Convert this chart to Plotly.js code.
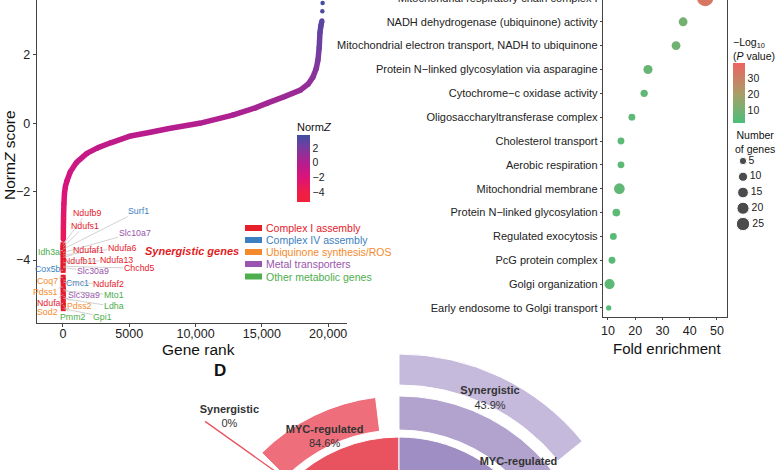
<!DOCTYPE html>
<html><head><meta charset="utf-8">
<script src="https://cdn.plot.ly/plotly-3.0.1.min.js"></script>
<style>
html,body{margin:0;padding:0;overflow:hidden;background:#fff;width:780px;height:470px;position:relative}
#chart{position:absolute;left:0;top:-20px;width:780px;height:620px}
</style>
</head><body><div id="chart"></div>
<script>
// ================= DATA =================
// Panel: NormZ score vs gene rank
const curveRank = [25, 32, 45, 70, 110, 180, 300, 550, 1000, 1800, 2600, 3600, 5000, 6500, 8000, 10300, 12800, 14500, 15400, 16700, 17900, 18500, 18850, 19100, 19230, 19320, 19380, 19450, 19530];
const curveZ    = [-3.4, -3.05, -2.7, -2.35, -2.05, -1.85, -1.68, -1.42, -1.15, -0.88, -0.72, -0.57, -0.38, -0.27, -0.15, 0.0, 0.24, 0.45, 0.59, 0.78, 0.97, 1.15, 1.35, 1.6, 1.85, 2.2, 2.65, 2.85, 3.0];
const tailRank = [19560, 19580, 19600];
const tailZ    = [3.28, 3.52, 3.75];

const categories = ['Complex I assembly', 'Complex IV assembly', 'Ubiquinone synthesis/ROS', 'Metal transporters', 'Other metabolic genes'];
const geneNames = ['Ndufb9','Ndufs1','Surf1','Idh3a','Slc10a7','Ndufa6','Ndufaf1','Ndufb11','Ndufa13','Chchd5','Slc30a9','Cox5b','Coq7','Cmc1','Ndufaf2','Pdss1','Slc39a9','Mto1','Ndufa3','Pdss2','Ldha','Sod2','Pmm2','Gpi1'];
const geneRank  = [1,2,3,4,5,6,7,8,9,10,11,12,13,14,15,16,17,18,19,20,21,22,23,24];
const geneZ     = [-3.55,-3.62,-3.68,-3.72,-3.78,-3.85,-3.92,-4.02,-4.08,-4.18,-4.22,-4.3,-4.5,-4.58,-4.65,-4.78,-4.85,-4.9,-5.0,-5.05,-5.12,-5.25,-5.32,-5.42];
const geneCategory = [0,0,1,4,3,0,0,0,0,0,3,1,2,1,0,2,3,4,0,2,4,2,4,4];
const normZTicks = [2, 0, -2, -4];
const rankTickVals = [0, 5000, 10000, 15000, 20000];
const rankTickText = ['0', '5000', '10,000', '15,000', '20,000'];

// Panel: enrichment dot plot (top to bottom)
const terms = ['Mitochondrial respiratory chain complex I','NADH dehydrogenase (ubiquinone) activity','Mitochondrial electron transport, NADH to ubiquinone','Protein N\u2212linked glycosylation via asparagine','Cytochrome\u2212c oxidase activity','Oligosaccharyltransferase complex','Cholesterol transport','Aerobic respiration','Mitochondrial membrane','Protein N\u2212linked glycosylation','Regulated exocytosis','PcG protein complex','Golgi organization','Early endosome to Golgi transport'];
const foldEnrichment = [45.7, 37.6, 35.0, 24.7, 23.3, 18.8, 14.8, 14.8, 14.2, 13.1, 12.0, 11.5, 10.6, 10.3];
const geneCount      = [40, 9, 9, 10, 5, 4, 4, 4, 15, 6, 4, 4, 13, 1];
const negLog10P      = [33, 10, 9, 7, 6, 5, 5, 5, 6, 5, 4, 4, 5, 3];
const foldTicks = [10, 20, 30, 40, 50];
const pTicks = [10, 20, 30];
const sizeLegendCounts = [5, 10, 15, 20, 25];

// Panel D: nested rings (inner, middle, outer)
const ringNames = ['All', 'MYC-regulated', 'Synergistic'];
const redPct    = [100, 84.6, 0];
const purplePct = [100, 77, 43.9];

// ================= LAYOUT HELPERS =================
const W = 780, H = 620, T = 20;
const X = sx => sx / W;
const Y = sy => 1 - (sy + T) / H;
const FONT = 'Liberation Sans, Arial, Helvetica, sans-serif';
const catColors = ['#e5202a', '#3b7fc1', '#f58a2c', '#9a55ae', '#4cae4c'];

function hexToRgb(h){return [parseInt(h.slice(1,3),16),parseInt(h.slice(3,5),16),parseInt(h.slice(5,7),16)];}
function interp(stops, t){
  if (t <= stops[0][0]) return stops[0][1];
  for (let i = 1; i < stops.length; i++) {
    if (t <= stops[i][0]) {
      const a = stops[i-1], b = stops[i];
      const f = (t - a[0]) / (b[0] - a[0]);
      const ca = hexToRgb(a[1]), cb = hexToRgb(b[1]);
      return 'rgb(' + ca.map((v,k) => Math.round(v + (cb[k]-v)*f)).join(',') + ')';
    }
  }
  return stops[stops.length-1][1];
}
const zMin = -5.36, zMax = 3.77;
const zStopsRaw = [[-5.36,'#f2213a'],[-4,'#ef1d48'],[-2,'#dd137a'],[0,'#b31e8f'],[2,'#7a3b9f'],[3.77,'#3f4fa3']];
const zScale = zStopsRaw.map(s => [(s[0]-zMin)/(zMax-zMin), s[1]]);
const zColor = z => interp(zScale, (z - zMin)/(zMax - zMin));

const pMin = 1.9, pMax = 39.4;
const pScale = [[0,'#4cbe79'],[0.45,'#a2a168'],[1,'#ee6361']];
const dotSize = n => Math.sqrt(22 + 6.2 * n);

const traces = [];
// curve segments colored by NormZ
for (let i = 0; i < curveRank.length - 1; i++) {
  const c = zColor((curveZ[i] + curveZ[i+1]) / 2);
  traces.push({type:'scatter', mode:'lines+markers', x:[curveRank[i], curveRank[i+1]], y:[curveZ[i], curveZ[i+1]],
    line:{color:c, width:5.5}, marker:{color:c, size:5}, hoverinfo:'skip', xaxis:'x', yaxis:'y'});
}
// tail dots with the colour bar
traces.push({type:'scatter', mode:'markers', x:tailRank, y:tailZ, xaxis:'x', yaxis:'y', hoverinfo:'skip',
  marker:{size:4.5, color:tailZ, colorscale:zScale, cmin:zMin, cmax:zMax, showscale:true,
    colorbar:{x:X(297), xanchor:'left', y:Y(135), yanchor:'top', len:67, lenmode:'pixels', thickness:13, xpad:0, ypad:0,
      outlinewidth:0, tickvals:normZTicks, ticktext:normZTicks.map(v => v < 0 ? '\u2212' + Math.abs(v) : String(v)),
      ticks:'', tickfont:{family:FONT, size:10.5, color:'#222'}}}});
// synergistic gene squares
traces.push({type:'scatter', mode:'markers', x:geneRank, y:geneZ, xaxis:'x', yaxis:'y', hoverinfo:'skip',
  marker:{symbol:'square', size:5, color:'#e8192c'}});

// enrichment dots
traces.push({type:'scatter', mode:'markers', x:foldEnrichment, y:terms, xaxis:'x2', yaxis:'y2', hoverinfo:'skip', cliponaxis:false,
  marker:{size:geneCount.map(dotSize), color:negLog10P, colorscale:pScale, cmin:pMin, cmax:pMax, line:{width:0}, opacity:1, showscale:true,
    colorbar:{x:X(733), xanchor:'left', y:Y(63), yanchor:'top', len:60, lenmode:'pixels', thickness:12, xpad:0, ypad:0,
      outlinewidth:0, tickvals:pTicks, ticks:'', tickfont:{family:FONT, size:10.5, color:'#222'}}}});
// size legend
traces.push({type:'scatter', mode:'markers+text', x:sizeLegendCounts.map(() => 0.2), y:sizeLegendCounts, xaxis:'x3', yaxis:'y3',
  text:sizeLegendCounts.map(String), textposition:'middle right', textfont:{family:FONT, size:10.5, color:'#222'}, hoverinfo:'skip', cliponaxis:false,
  marker:{size:sizeLegendCounts.map(dotSize), color:'#000'}});

// Panel D rings
const ringR = [[0,153],[160,194],[205,236]];
const labelRadiusFactor = 0.96;
const sides = [
  {pct:redPct, start:-45, span:45, colors:['#e9525f','#ee6f7b','#e9525f']},
  {pct:purplePct, start:0, span:116, colors:['#9f8ec4','#b1a3cd','#c5badb']}
];
const labR = [], labT = [], labText = [];
sides.forEach(s => {
  const th = [], wd = [], rr = [], bs = [], cl = [];
  s.pct.forEach((p, k) => {
    const w = s.span * p / 100;
    if (w > 0) { th.push(s.start + w/2); wd.push(w); rr.push(ringR[k][1]-ringR[k][0]); bs.push(ringR[k][0]); cl.push(s.colors[k]);
      if (k > 0) { labR.push(labelRadiusFactor*(ringR[k][0]+ringR[k][1])/2); labT.push(s.start + w/2); labText.push('<b>' + ringNames[k] + '</b><br>' + p + '%'); } }
  });
  traces.push({type:'barpolar', theta:th, width:wd, r:rr, base:bs, marker:{color:cl, line:{color:'#fff', width:1}}, hoverinfo:'skip', subplot:'polar'});
});
// zero-width ring: leader line and label
const zeroIdx = redPct.indexOf(0);
traces.push({type:'scatterpolar', mode:'lines', r:[257, 150], theta:[-49, sides[0].start], line:{color:'#e8525f', width:1.3}, hoverinfo:'skip', subplot:'polar', cliponaxis:false});
labR.push(242); labT.push(-44.5); labText.push('<b>' + ringNames[zeroIdx] + '</b><br>' + redPct[zeroIdx] + '%');
traces.push({type:'scatterpolar', mode:'text', r:labR, theta:labT, text:labText, textfont:{family:FONT, size:11, color:'#333'}, hoverinfo:'skip', subplot:'polar', cliponaxis:false});

// ================= ANNOTATIONS / SHAPES =================
const labelOffsets = [[23.5,-32],[21.5,-21],[75.5,-38],[-14.5,1],[71.5,-20],[58.5,-7],[25.5,-7],[17.5,0.5],[53.5,-3],[75.5,2],[29.5,3.5],[-15.5,-1],[-15.5,3.3],[14.5,3.5],[45.5,1.5],[-17.5,5],[20.5,6],[50.5,4],[-12.5,9],[16.5,10],[50.5,8],[-15.5,9],[9.5,12],[39.5,8]];
const annotations = geneNames.map((g, i) => ({xref:'x', yref:'y', x:geneRank[i], y:geneZ[i], text:g, showarrow:true, arrowhead:0,
  arrowwidth:0.7, arrowcolor:'#bdbdbd', ax:labelOffsets[i][0], ay:labelOffsets[i][1], standoff:0, borderpad:0,
  xanchor:'center', yanchor:'middle', font:{family:FONT, size:8.8, color:catColors[geneCategory[i]]}}));
const legRows = [228, 240, 252, 264, 276.5];
const shapes = [];
const txt = (sx, sy, text, size, opts) => Object.assign({xref:'paper', yref:'paper', x:X(sx), y:Y(sy), text, showarrow:false,
  xanchor:'center', yanchor:'middle', font:{family:FONT, size, color:'#111'}}, opts || {});
categories.forEach((c, i) => {
  shapes.push({type:'rect', xref:'paper', yref:'paper', x0:X(245), x1:X(262), y0:Y(legRows[i]+3), y1:Y(legRows[i]-3), fillcolor:catColors[i], line:{width:0}});
  annotations.push(txt(264, legRows[i], c, 10.5, {xanchor:'left', font:{family:FONT, size:10.5, color:catColors[i]}}));
});
annotations.push(txt(192, 251, '<b><i>Synergistic genes</i></b>', 11, {font:{family:FONT, size:11, color:'#e41a1c'}}));
annotations.push(txt(10, 155, 'Norm<i>Z</i> score', 15.5, {textangle:-90}));
annotations.push(txt(198, 349, 'Gene rank', 15.5));
annotations.push(txt(667, 348, 'Fold enrichment', 15));
annotations.push(txt(295, 127, 'Norm<i>Z</i>', 11, {xanchor:'left'}));
annotations.push(txt(731, 49, '\u2212Log<sub>10</sub><br>(<i>P</i> value)', 10.5, {xanchor:'left', align:'left'}));
annotations.push(txt(755, 142, 'Number<br>of genes', 10.5, {align:'center'}));
annotations.push(txt(220, 370, '<b>D</b>', 17));

const axisCommon = {showgrid:false, zeroline:false, showline:true, linecolor:'#444', linewidth:1.2, ticks:'outside', tickcolor:'#444', ticklen:3,
  tickfont:{family:FONT, size:12.5, color:'#222'}, automargin:false, fixedrange:true};

const layout = {
  width:W, height:H, margin:{l:0, r:0, t:0, b:0}, paper_bgcolor:'#fff', plot_bgcolor:'rgba(0,0,0,0)',
  showlegend:false, hovermode:false, font:{family:FONT},
  xaxis: Object.assign({}, axisCommon, {domain:[X(37), X(347)], range:[-1960, 21420], tickvals:rankTickVals, ticktext:rankTickText, anchor:'y', ticklabelstandoff:-4}),
  yaxis: Object.assign({}, axisCommon, {domain:[Y(323), Y(-10)], range:[-5.839, 3.898], tickvals:normZTicks, anchor:'x'}),
  xaxis2: Object.assign({}, axisCommon, {domain:[X(603), X(727)], range:[8.2, 53.7], tickvals:foldTicks, anchor:'y2', ticklen:2}),
  yaxis2: Object.assign({}, axisCommon, {domain:[Y(317), Y(-14)], type:'category', categoryorder:'array', categoryarray:terms.slice().reverse(),
    range:[-0.38, 13.5], mirror:true, anchor:'x2', ticklen:2, tickfont:{family:FONT, size:11, color:'#222'}}),
  xaxis3: {domain:[X(735), X(775)], range:[0,1], visible:false, anchor:'y3', fixedrange:true},
  yaxis3: {domain:[Y(235), Y(150)], range:[28.49, 1.51], visible:false, anchor:'x3', fixedrange:true},
  polar: {domain:{x:[X(129), X(669)], y:[Y(590), Y(320)]}, sector:[0,180], bgcolor:'rgba(0,0,0,0)', hole:0,
    radialaxis:{visible:false, range:[0,270], showgrid:false, showline:false, showticklabels:false, ticks:''},
    angularaxis:{visible:false, rotation:90, direction:'clockwise', showgrid:false, showline:false, showticklabels:false, ticks:''}},
  annotations, shapes
};
Plotly.newPlot('chart', traces, layout, {displayModeBar:false, staticPlot:true});
</script>
</body></html>
